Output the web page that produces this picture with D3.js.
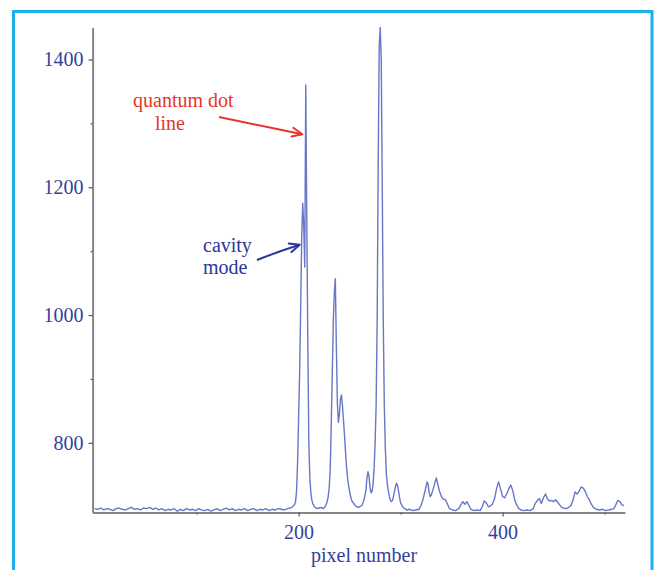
<!DOCTYPE html>
<html>
<head>
<meta charset="utf-8">
<script src="https://cdn.jsdelivr.net/npm/d3@7"></script>
<style>
  html, body { margin: 0; padding: 0; background: #fff; }
  svg { display: block; }
</style>
</head>
<body>
<div id="chart"></div>
<script>
// spectrum: [pixel number, counts]
const spectrum = [
  [0,697],[3,696],[6,698],[9,695],[12,697],[15,696],[18,694],[21,697],[24,698],[27,696],
  [30,695],[33,697],[36,699],[39,696],[42,697],[45,695],[48,698],[51,697],[54,699],[57,696],
  [60,698],[63,695],[66,697],[69,694],[72,696],[75,695],[78,697],[81,693],[84,696],[87,694],
  [90,697],[93,695],[96,696],[99,694],[102,697],[105,695],[108,694],[111,696],[114,693],[117,695],
  [120,697],[123,694],[126,696],[129,698],[132,695],[135,697],[138,694],[141,696],[144,695],[147,697],
  [150,694],[153,696],[156,697],[159,694],[162,696],[165,695],[168,697],[171,694],[174,696],[177,695],
  [180,697],[183,696],[186,695],[189,697],[192,698],[194,700],
  [196,703],[197,708],[198,725],[199,770],[200,840],[201,910],[202,1010],[203,1120],[204,1175],[205,1140],
  [206,1075],[207,1360],[208,1150],[209,960],[210,800],[211,745],[212,722],[213,710],[214,704],[216,699],
  [218,697],[220,698],[222,699],[224,697],[226,700],
  [227,704],[228,708],[229,716],[230,730],[231,760],[232,830],[233,910],[234,990],[235,1035],[236,1057],
  [237,950],[238,862],[239,832],[240,845],[241,868],[242,875],[243,858],[244,835],[245,812],[246,785],
  [247,762],[248,745],[249,733],[250,724],[251,716],[252,710],[254,705],[256,701],[258,699],[260,700],
  [262,702],[264,710],[266,726],[267,745],[268,755],[269,748],[270,730],[271,722],[272,724],[273,735],
  [274,760],[275,800],[276,860],[277,990],[278,1230],[279,1420],[280,1450],[281,1400],[282,1200],[283,990],
  [284,860],[285,792],[286,752],[287,735],[288,724],[289,716],[290,710],[291,708],[292,710],[293,716],
  [294,724],[295,732],[296,737],[297,733],[298,724],[299,714],[300,706],[302,700],[304,697],[306,695],
  [309,696],[312,694],[315,695],[318,696],[320,702],[322,712],[324,725],[326,739],[327,735],[328,722],
  [329,716],[330,718],[332,728],[334,740],[335,745],[336,738],[338,725],[340,716],[342,712],[344,711],
  [346,704],[348,697],[351,695],[354,694],[357,697],[359,703],[361,708],[363,704],[365,708],[367,702],
  [369,696],[372,694],[375,695],[378,694],[380,700],[382,709],[384,706],[386,700],[388,701],[390,704],
  [392,712],[394,728],[396,739],[398,728],[400,716],[402,714],[404,720],[406,728],[408,734],[410,725],
  [412,710],[414,702],[416,697],[418,695],[421,694],[424,695],[427,694],[430,697],[432,705],[434,710],
  [436,713],[438,705],[440,714],[442,720],[444,712],[446,709],[448,710],[450,708],[452,711],[454,707],
  [456,703],[458,699],[461,697],[464,698],[467,702],[469,710],[471,723],[473,720],[475,724],[477,731],
  [479,729],[481,724],[483,716],[485,711],[487,704],[489,699],[492,696],[495,695],[498,696],[501,694],
  [504,695],[507,696],[509,697],[511,703],[513,710],[515,708],[517,703],[519,702]
];

const yTicks = [800, 1000, 1200, 1400];
const yMinorTicks = [900, 1100, 1300];
const xTicks = [200, 400];
const xMinorTicks = [100, 300, 500];
const xTitle = 'pixel number';

const width = 655;
const height = 570;

const svg = d3.select('#chart').append('svg')
  .attr('width', width)
  .attr('height', height);

// cyan frame
svg.append('rect')
  .attr('x', 13.5)
  .attr('y', 11.5)
  .attr('width', 638.5)
  .attr('height', 620)
  .attr('fill', 'none')
  .attr('stroke', '#1bb1ea')
  .attr('stroke-width', 3);

const x = d3.scaleLinear().domain([-2, 520]).range([92.6, 625]);
const y = d3.scaleLinear().domain([691, 1450]).range([512.5, 27.5]);

const labelColor = '#33439c';
const axisColor = '#858585';
const fontFamily = '"Liberation Serif", "Times New Roman", serif';
const fmt = d3.format('d');

// y axis
const gy = svg.append('g')
  .attr('transform', `translate(${x.range()[0]},0)`)
  .call(d3.axisLeft(y).tickValues(yTicks).tickFormat(fmt).tickSize(4).tickSizeOuter(0).tickPadding(5));
gy.append('g')
  .call(d3.axisLeft(y).tickValues(yMinorTicks).tickSize(2).tickSizeOuter(0).tickFormat(''))
  .select('.domain').remove();

// x axis
const gx = svg.append('g')
  .attr('transform', `translate(0,${y.range()[0]})`)
  .call(d3.axisBottom(x).tickValues(xTicks).tickFormat(fmt).tickSize(4).tickSizeOuter(0).tickPadding(8));
gx.append('g')
  .call(d3.axisBottom(x).tickValues(xMinorTicks).tickSize(2).tickSizeOuter(0).tickFormat(''))
  .select('.domain').remove();

svg.selectAll('.domain')
  .attr('stroke', axisColor)
  .attr('stroke-width', 2);
svg.selectAll('.tick line')
  .attr('stroke', '#555')
  .attr('stroke-width', 1.2);
svg.selectAll('.tick text')
  .attr('fill', labelColor)
  .attr('font-family', fontFamily)
  .attr('font-size', '20px');

svg.append('text')
  .attr('x', 364)
  .attr('y', 562)
  .attr('text-anchor', 'middle')
  .attr('fill', labelColor)
  .attr('font-family', fontFamily)
  .attr('font-size', '20px')
  .text(xTitle);

// spectrum
const line = d3.line()
  .x(d => x(d[0]))
  .y(d => y(d[1]));

svg.append('path')
  .datum(spectrum)
  .attr('d', line)
  .attr('fill', 'none')
  .attr('stroke', '#6877c8')
  .attr('stroke-width', 1.4)
  .attr('stroke-linejoin', 'round');

// annotations
const redColor = '#e8352b';
const blueColor = '#27379a';

function arrowHead(tipX, tipY, fromX, fromY, color) {
  const a = Math.atan2(tipY - fromY, tipX - fromX);
  const len = 11, spread = 0.42;
  const p1 = [tipX - len * Math.cos(a - spread), tipY - len * Math.sin(a - spread)];
  const p2 = [tipX - len * Math.cos(a + spread), tipY - len * Math.sin(a + spread)];
  svg.append('path')
    .attr('d', `M${p1[0]},${p1[1]}L${tipX},${tipY}L${p2[0]},${p2[1]}`)
    .attr('fill', 'none')
    .attr('stroke', color)
    .attr('stroke-width', 2)
    .attr('stroke-linejoin', 'round')
    .attr('stroke-linecap', 'round');
}

const qdTip = [x(207) - 3.5, y(1283)];
svg.append('path')
  .attr('d', `M219,117L${qdTip[0]},${qdTip[1]}`)
  .attr('stroke', redColor)
  .attr('stroke-width', 2)
  .attr('fill', 'none');
arrowHead(qdTip[0], qdTip[1], 219, 117, redColor);

const cavTip = [x(204) - 3, y(1110)];
svg.append('path')
  .attr('d', `M257,260Q277,252 ${cavTip[0]},${cavTip[1]}`)
  .attr('stroke', blueColor)
  .attr('stroke-width', 2)
  .attr('fill', 'none');
arrowHead(cavTip[0], cavTip[1], 280, 251, blueColor);

const notes = [
  {text: 'quantum dot', x: 133, y: 107, color: redColor},
  {text: 'line', x: 155, y: 130, color: redColor},
  {text: 'cavity', x: 203, y: 252, color: blueColor},
  {text: 'mode', x: 203, y: 274, color: blueColor}
];
svg.selectAll('.note')
  .data(notes)
  .enter().append('text')
  .attr('class', 'note')
  .attr('x', d => d.x)
  .attr('y', d => d.y)
  .attr('fill', d => d.color)
  .attr('font-family', fontFamily)
  .attr('font-size', '20px')
  .text(d => d.text);
</script>
</body>
</html>
